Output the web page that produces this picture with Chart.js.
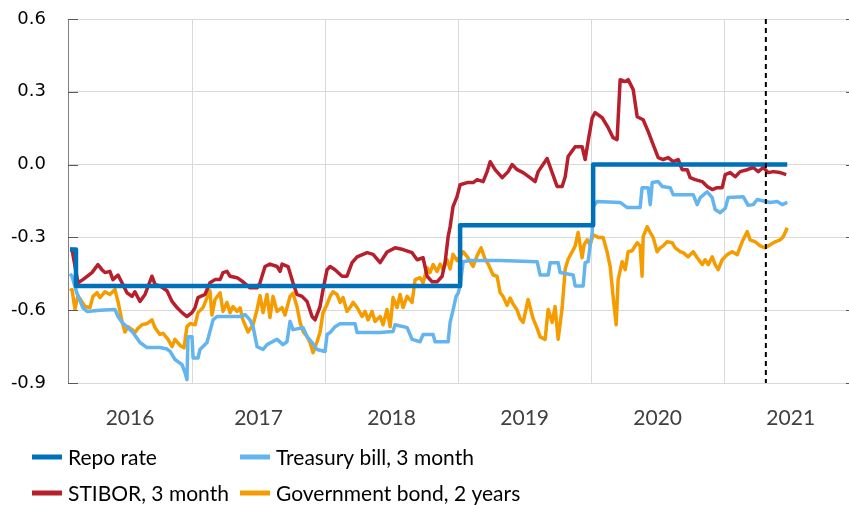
<!DOCTYPE html>
<html lang="en">
<head>
  <meta charset="UTF-8" />
  <title>Repo rate and short-term market rates</title>
  <script src="https://cdn.jsdelivr.net/npm/chart.js"></script>
  <style>
    html, body { margin: 0; padding: 0; background: #fff; }
  </style>
</head>
<body>
  <canvas id="rates" width="849" height="505"></canvas>

  <script>
    // Dates are decimal years, values in per cent
    const repoDates  = [2016.083, 2016.128, 2019.015, 2020.015, 2021.474];
    const repoValues = [-0.35, -0.50, -0.25, 0.00, 0.00];

    const billDates = [
      2016.083, 2016.098, 2016.135, 2016.180, 2016.211, 2016.308, 2016.421, 2016.444, 2016.474, 2016.511,
      2016.556, 2016.609, 2016.662, 2016.759, 2016.812, 2016.835, 2016.872, 2016.925, 2016.947, 2016.962,
      2016.970, 2017.000, 2017.008, 2017.045, 2017.060, 2017.113, 2017.158, 2017.188, 2017.361, 2017.398,
      2017.436, 2017.459, 2017.489, 2017.534, 2017.564, 2017.639, 2017.684, 2017.714, 2017.737, 2017.759,
      2017.835, 2017.865, 2017.902, 2017.940, 2018.000, 2018.015, 2018.038, 2018.075, 2018.113, 2018.226,
      2018.241, 2018.414, 2018.511, 2018.526, 2018.617, 2018.654, 2018.714, 2018.737, 2018.812, 2018.827,
      2018.925, 2018.940, 2018.962, 2018.985, 2019.000, 2019.015, 2019.038, 2019.090, 2019.316, 2019.594,
      2019.617, 2019.677, 2019.692, 2019.752, 2019.767, 2019.865, 2019.880, 2019.940, 2019.955, 2019.977,
      2019.992, 2020.008, 2020.015, 2020.045, 2020.218, 2020.271, 2020.368, 2020.383, 2020.429, 2020.444,
      2020.459, 2020.504, 2020.534, 2020.594, 2020.617, 2020.767, 2020.797, 2020.820, 2020.872, 2020.910,
      2020.932, 2020.970, 2021.008, 2021.030, 2021.143, 2021.180, 2021.218, 2021.248, 2021.346, 2021.398,
      2021.436, 2021.474
    ];
    const billValues = [
      -0.45, -0.46, -0.53, -0.59, -0.605, -0.60, -0.597, -0.626, -0.65, -0.668,
      -0.692, -0.733, -0.754, -0.754, -0.76, -0.77, -0.803, -0.824, -0.857, -0.886,
      -0.709, -0.709, -0.797, -0.797, -0.762, -0.733, -0.64, -0.626, -0.626, -0.618,
      -0.64, -0.668, -0.75, -0.762, -0.742, -0.72, -0.742, -0.73, -0.646, -0.68,
      -0.672, -0.709, -0.733, -0.762, -0.77, -0.70, -0.692, -0.668, -0.656, -0.656,
      -0.692, -0.692, -0.688, -0.66, -0.672, -0.72, -0.73, -0.70, -0.70, -0.73,
      -0.73, -0.65, -0.60, -0.543, -0.53, -0.50, -0.40, -0.395, -0.395, -0.40,
      -0.455, -0.455, -0.404, -0.404, -0.445, -0.455, -0.50, -0.50, -0.404, -0.40,
      -0.335, -0.28, -0.173, -0.152, -0.156, -0.177, -0.177, -0.095, -0.095, -0.165,
      -0.074, -0.07, -0.09, -0.095, -0.124, -0.124, -0.165, -0.136, -0.112, -0.136,
      -0.185, -0.198, -0.18, -0.136, -0.132, -0.168, -0.165, -0.144, -0.156, -0.152,
      -0.165, -0.156
    ];

    const stiborDates = [
      2016.083, 2016.098, 2016.143, 2016.180, 2016.248, 2016.293, 2016.323, 2016.346, 2016.383, 2016.406,
      2016.444, 2016.474, 2016.511, 2016.549, 2016.571, 2016.609, 2016.647, 2016.699, 2016.722, 2016.759,
      2016.812, 2016.850, 2016.887, 2016.925, 2016.962, 2017.000, 2017.023, 2017.045, 2017.098, 2017.135,
      2017.173, 2017.211, 2017.233, 2017.263, 2017.286, 2017.338, 2017.383, 2017.436, 2017.489, 2017.511,
      2017.549, 2017.586, 2017.639, 2017.662, 2017.677, 2017.722, 2017.759, 2017.789, 2017.827, 2017.865,
      2017.902, 2017.925, 2017.962, 2017.985, 2018.015, 2018.038, 2018.075, 2018.128, 2018.165, 2018.203,
      2018.241, 2018.316, 2018.361, 2018.414, 2018.466, 2018.526, 2018.586, 2018.654, 2018.692, 2018.737,
      2018.767, 2018.805, 2018.842, 2018.880, 2018.902, 2018.925, 2018.940, 2018.962, 2018.992, 2019.015,
      2019.068, 2019.113, 2019.143, 2019.188, 2019.218, 2019.241, 2019.278, 2019.331, 2019.376, 2019.406,
      2019.444, 2019.489, 2019.541, 2019.579, 2019.602, 2019.669, 2019.707, 2019.744, 2019.782, 2019.805,
      2019.827, 2019.880, 2019.932, 2019.955, 2019.977, 2020.008, 2020.030, 2020.083, 2020.128, 2020.165,
      2020.195, 2020.218, 2020.256, 2020.278, 2020.316, 2020.346, 2020.391, 2020.429, 2020.466, 2020.504,
      2020.541, 2020.579, 2020.617, 2020.654, 2020.684, 2020.722, 2020.744, 2020.782, 2020.835, 2020.872,
      2020.910, 2020.947, 2020.985, 2021.008, 2021.045, 2021.083, 2021.120, 2021.173, 2021.218, 2021.256,
      2021.293, 2021.331, 2021.368, 2021.421, 2021.466
    ];
    const stiborValues = [
      -0.35, -0.35, -0.487, -0.474, -0.445, -0.412, -0.433, -0.445, -0.44, -0.474,
      -0.455, -0.487, -0.528, -0.543, -0.524, -0.564, -0.535, -0.46, -0.494, -0.50,
      -0.52, -0.564, -0.589, -0.61, -0.626, -0.61, -0.589, -0.548, -0.535, -0.487,
      -0.474, -0.474, -0.445, -0.44, -0.46, -0.466, -0.483, -0.508, -0.508, -0.487,
      -0.42, -0.41, -0.42, -0.44, -0.41, -0.42, -0.487, -0.535, -0.543, -0.564,
      -0.626, -0.64, -0.585, -0.515, -0.433, -0.42, -0.433, -0.46, -0.46, -0.404,
      -0.38, -0.363, -0.37, -0.404, -0.36, -0.343, -0.35, -0.363, -0.392, -0.384,
      -0.46, -0.483, -0.483, -0.46, -0.404, -0.297, -0.256, -0.173, -0.132, -0.083,
      -0.074, -0.074, -0.062, -0.07, -0.029, 0.012, -0.021, -0.054, -0.029, 0.0,
      -0.021, -0.033, -0.054, -0.07, -0.029, 0.025, -0.033, -0.09, -0.09, -0.05,
      0.033, 0.074, 0.074, 0.021, 0.095, 0.193, 0.214, 0.193, 0.152, 0.111,
      0.103, 0.35, 0.342, 0.35, 0.309, 0.197, 0.185, 0.136, 0.082, 0.029,
      0.021, 0.029, 0.012, 0.021, -0.021, -0.021, -0.054, -0.062, -0.07, -0.09,
      -0.103, -0.095, -0.095, -0.041, -0.033, -0.05, -0.029, -0.021, -0.012, -0.029,
      -0.012, -0.033, -0.029, -0.033, -0.041
    ];

    const bondDates = [
      2016.083, 2016.098, 2016.120, 2016.143, 2016.195, 2016.233, 2016.256, 2016.286, 2016.308, 2016.346,
      2016.383, 2016.421, 2016.444, 2016.474, 2016.496, 2016.519, 2016.549, 2016.571, 2016.594, 2016.624,
      2016.662, 2016.699, 2016.722, 2016.759, 2016.782, 2016.820, 2016.850, 2016.872, 2016.910, 2016.940,
      2016.962, 2016.985, 2017.023, 2017.045, 2017.083, 2017.113, 2017.135, 2017.150, 2017.173, 2017.211,
      2017.233, 2017.263, 2017.286, 2017.308, 2017.338, 2017.361, 2017.383, 2017.421, 2017.459, 2017.489,
      2017.511, 2017.534, 2017.564, 2017.586, 2017.609, 2017.639, 2017.677, 2017.699, 2017.737, 2017.759,
      2017.789, 2017.812, 2017.835, 2017.865, 2017.887, 2017.910, 2017.940, 2017.962, 2017.985, 2018.015,
      2018.038, 2018.060, 2018.090, 2018.113, 2018.135, 2018.165, 2018.188, 2018.211, 2018.241, 2018.278,
      2018.301, 2018.323, 2018.353, 2018.376, 2018.414, 2018.436, 2018.466, 2018.489, 2018.511, 2018.541,
      2018.564, 2018.586, 2018.617, 2018.654, 2018.677, 2018.714, 2018.737, 2018.767, 2018.789, 2018.812,
      2018.842, 2018.865, 2018.887, 2018.917, 2018.940, 2018.962, 2018.992, 2019.015, 2019.038, 2019.075,
      2019.113, 2019.143, 2019.173, 2019.203, 2019.226, 2019.263, 2019.293, 2019.316, 2019.338, 2019.368,
      2019.391, 2019.414, 2019.444, 2019.466, 2019.489, 2019.526, 2019.564, 2019.594, 2019.617, 2019.654,
      2019.677, 2019.707, 2019.729, 2019.752, 2019.782, 2019.805, 2019.827, 2019.857, 2019.880, 2019.902,
      2019.932, 2019.947, 2019.970, 2019.992, 2020.015, 2020.053, 2020.090, 2020.120, 2020.143, 2020.165,
      2020.188, 2020.203, 2020.233, 2020.256, 2020.278, 2020.308, 2020.346, 2020.368, 2020.383, 2020.391,
      2020.421, 2020.444, 2020.466, 2020.496, 2020.519, 2020.541, 2020.571, 2020.609, 2020.632, 2020.669,
      2020.692, 2020.729, 2020.767, 2020.797, 2020.835, 2020.857, 2020.880, 2020.910, 2020.932, 2020.955,
      2020.985, 2021.023, 2021.060, 2021.098, 2021.135, 2021.173, 2021.195, 2021.233, 2021.271, 2021.308,
      2021.346, 2021.383, 2021.421, 2021.444, 2021.474
    ];
    const bondValues = [
      -0.52, -0.515, -0.595, -0.54, -0.585, -0.589, -0.543, -0.528, -0.548, -0.524,
      -0.535, -0.515, -0.565, -0.646, -0.69, -0.668, -0.68, -0.692, -0.675, -0.66,
      -0.655, -0.64, -0.672, -0.70, -0.695, -0.72, -0.75, -0.72, -0.745, -0.755,
      -0.668, -0.655, -0.66, -0.61, -0.589, -0.548, -0.52, -0.62, -0.556, -0.528,
      -0.605, -0.568, -0.61, -0.585, -0.605, -0.59, -0.64, -0.69, -0.66, -0.597,
      -0.54, -0.61, -0.535, -0.63, -0.543, -0.605, -0.589, -0.62, -0.543, -0.53,
      -0.585, -0.65, -0.688, -0.709, -0.733, -0.775, -0.73, -0.692, -0.61, -0.576,
      -0.543, -0.524, -0.535, -0.568, -0.548, -0.605, -0.589, -0.568, -0.589, -0.626,
      -0.605, -0.64, -0.605, -0.646, -0.626, -0.66, -0.597, -0.668, -0.548, -0.589,
      -0.535, -0.589, -0.543, -0.568, -0.474, -0.466, -0.487, -0.425, -0.445, -0.412,
      -0.44, -0.41, -0.433, -0.392, -0.43, -0.37, -0.395, -0.38, -0.359, -0.384,
      -0.42, -0.375, -0.343, -0.39, -0.41, -0.455, -0.46, -0.528, -0.543, -0.58,
      -0.55, -0.575, -0.6, -0.635, -0.65, -0.556, -0.635, -0.675, -0.71, -0.72,
      -0.597, -0.65, -0.585, -0.72, -0.59, -0.43, -0.39, -0.36, -0.335, -0.28,
      -0.384, -0.33, -0.31, -0.33, -0.289, -0.30, -0.30, -0.36, -0.42, -0.543,
      -0.66, -0.474, -0.40, -0.433, -0.359, -0.355, -0.322, -0.335, -0.46, -0.297,
      -0.256, -0.28, -0.30, -0.359, -0.343, -0.335, -0.318, -0.322, -0.343, -0.359,
      -0.363, -0.38, -0.359, -0.384, -0.412, -0.392, -0.412, -0.38, -0.412, -0.433,
      -0.392, -0.371, -0.359, -0.371, -0.318, -0.276, -0.31, -0.318, -0.335, -0.343,
      -0.33, -0.318, -0.31, -0.297, -0.26
    ];

    const yearLabels = ['2016', '2017', '2018', '2019', '2020', '2021'];
    const gridYears  = [2017, 2018, 2019, 2020, 2021];
    const yTicks     = [-0.9, -0.6, -0.3, 0.0, 0.3, 0.6];
    const xMin = 2016.068, xMax = 2021.938;
    const decisionDate = 2021.313;   // dashed marker

    // first year is only partly visible, so centre its label on what is shown
    const labelPos = yearLabels.map((y, i) => i === 0 ? (xMin + Number(y) + 1) / 2 : Number(y) + 0.5);

    const toPoints = (dates, values) => dates.map((d, i) => ({ x: d, y: values[i] }));

    const textFont = "Lato, 'Open Sans', sans-serif";

    // legend in two columns, dashed decision line, inward axis ticks
    const extras = {
      id: 'extras',
      afterDatasetsDraw(chart) {
        const { ctx, chartArea, scales } = chart;
        const x = scales.x.getPixelForValue(decisionDate);
        ctx.save();
        ctx.strokeStyle = '#000';
        ctx.lineWidth = 2;
        ctx.setLineDash([5, 4]);
        ctx.beginPath();
        ctx.moveTo(x, chartArea.top);
        ctx.lineTo(x, chartArea.bottom);
        ctx.stroke();
        ctx.restore();
      },
      afterDraw(chart) {
        const { ctx, chartArea, scales } = chart;
        ctx.save();
        ctx.strokeStyle = '#595959';
        ctx.lineWidth = 1;
        yTicks.forEach(v => {
          const y = Math.round(scales.y.getPixelForValue(v)) + 0.5;
          ctx.beginPath();
          ctx.moveTo(chartArea.left, y);
          ctx.lineTo(chartArea.left + 10, y);
          ctx.moveTo(chartArea.right - 3, y);
          ctx.lineTo(chartArea.right, y);
          ctx.stroke();
        });

        const colX = [32, 240];
        const rowY = [457, 493];
        ctx.font = '21px ' + textFont;
        ctx.textBaseline = 'middle';
        ctx.fillStyle = '#000';
        chart.data.datasets.forEach((ds, i) => {
          const x = colX[i % 2];
          const y = rowY[Math.floor(i / 2)];
          ctx.strokeStyle = ds.borderColor;
          ctx.lineWidth = 5;
          ctx.beginPath();
          ctx.moveTo(x, y);
          ctx.lineTo(x + 30, y);
          ctx.stroke();
          ctx.fillText(ds.label, x + 36, y + 1);
        });
        ctx.restore();
      }
    };

    new Chart(document.getElementById('rates'), {
      type: 'line',
      data: {
        datasets: [
          { label: 'Repo rate', data: toPoints(repoDates, repoValues),
            borderColor: '#0070b8', borderWidth: 4.5, stepped: true },
          { label: 'Treasury bill, 3 month', data: toPoints(billDates, billValues),
            borderColor: '#63b4ef', borderWidth: 3.5 },
          { label: 'STIBOR, 3 month', data: toPoints(stiborDates, stiborValues),
            borderColor: '#b71f2d', borderWidth: 3.5 },
          { label: 'Government bond, 2 years', data: toPoints(bondDates, bondValues),
            borderColor: '#f59c00', borderWidth: 3.5 },
        ],
      },
      options: {
        responsive: false,
        animation: false,
        layout: { padding: { top: 19, right: 0, bottom: 0, left: 0 } },
        elements: {
          point: { radius: 0 },
          line: { tension: 0, borderJoinStyle: 'round', fill: false },
        },
        plugins: {
          legend: { display: false },
          tooltip: { enabled: false },
        },
        scales: {
          x: {
            type: 'linear',
            min: xMin,
            max: xMax,
            afterBuildTicks: s => {
              s.ticks = gridYears.concat(labelPos).sort((a, b) => a - b).map(v => ({ value: v }));
            },
            afterFit: s => { s.height = 122; },
            ticks: {
              autoSkip: false,
              maxRotation: 0,
              padding: 23,
              color: '#404040',
              font: { family: textFont, size: 21 },
              callback: v => {
                const i = labelPos.indexOf(v);
                return i >= 0 ? yearLabels[i] : '';
              },
            },
            grid: {
              drawTicks: false,
              color: c => (c.tick && gridYears.includes(c.tick.value)) ? '#d9d9d9' : 'rgba(0,0,0,0)',
            },
            border: { display: false },
          },
          y: {
            min: -0.9,
            max: 0.6,
            afterBuildTicks: s => { s.ticks = yTicks.map(v => ({ value: v })); },
            afterFit: s => { s.width = 68; },
            ticks: {
              padding: 0,
              color: '#000',
              font: { family: 'DejaVu Sans', size: 18 },
              callback: v => v.toFixed(1),
            },
            // invisible tick marks just push the labels away from the axis
            grid: { drawTicks: true, tickLength: 22, tickColor: 'rgba(0,0,0,0)', color: '#d9d9d9' },
            border: { display: true, color: '#808080', width: 1 },
          },
        },
      },
      plugins: [extras],
    });
  </script>
</body>
</html>
